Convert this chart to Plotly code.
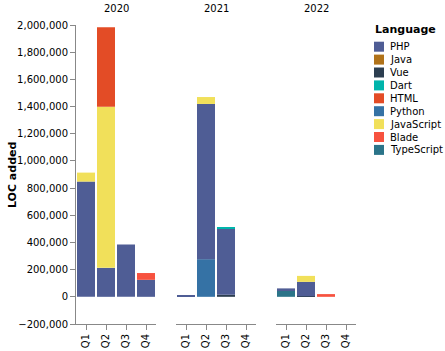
import plotly.graph_objects as go

years = ["2020", "2021", "2022"]
quarters = ["Q1", "Q2", "Q3", "Q4"]

# bottom-to-top stacking order (as in the reference)
stack_order = ["Vue", "TypeScript", "Python", "PHP", "JavaScript", "Java", "HTML", "Dart", "Blade"]
legend_order = ["PHP", "Java", "Vue", "Dart", "HTML", "Python", "JavaScript", "Blade", "TypeScript"]

colors = {
    "PHP": "#4F5D95",
    "Java": "#b07219",
    "Vue": "#2c3e50",
    "Dart": "#00B4AB",
    "HTML": "#e34c26",
    "Python": "#3572A5",
    "JavaScript": "#f1e05a",
    "Blade": "#f7523f",
    "TypeScript": "#2b7489",
}

# values: 2020 Q1..Q4, 2021 Q1..Q4, 2022 Q1..Q4
php = [848000, 213000, 385000, 125000, 12000, 1142000, 485000, 0, 12000, 106000, 0, 0]
java = [0, 0, 0, 0, 0, 0, 0, 0, 0, 0, 0, 0]
vue = [0, 0, 0, 0, 0, 0, 15000, 0, 0, 4000, 0, 0]
dart = [0, 0, 0, 0, 0, 0, 8000, 0, 0, 0, 0, 0]
html = [0, 584000, 0, 0, 0, 0, 0, 0, 0, 0, 0, 0]
python = [0, 0, 0, 0, 0, 277000, 0, 0, 0, 0, 0, 0]
javascript = [66000, 1186000, 0, 0, 0, 51000, 0, 0, 0, 44000, 0, 0]
blade = [0, 0, 0, 50000, 0, 0, 0, 0, 0, 0, 20000, 0]
typescript = [0, 0, 0, 0, 0, 0, 0, 0, 50000, 0, 0, 0]

values = {
    "PHP": php, "Java": java, "Vue": vue, "Dart": dart, "HTML": html,
    "Python": python, "JavaScript": javascript, "Blade": blade, "TypeScript": typescript,
}

W, H = 445, 351
L, R, T, B = 76, 89, 25, 27
pw = W - L - R   # 280
ph = H - T - B   # 299

def px_x(px):
    return (px - L) / pw

def px_y(py):
    return (H - B - py) / ph

domains = [[0, 80 / pw], [100 / pw, 180 / pw], [200 / pw, 1.0]]

fig = go.Figure()
for lang in stack_order:
    for j, yr in enumerate(years):
        fig.add_trace(go.Bar(
            x=quarters,
            y=values[lang][j * 4:(j + 1) * 4],
            name=lang,
            xaxis="x" if j == 0 else f"x{j+1}",
            yaxis="y" if j == 0 else f"y{j+1}",
            marker=dict(color=colors[lang], line=dict(width=0)),
            showlegend=False,
            hoverinfo="skip",
        ))

layout = dict(
    width=W, height=H,
    margin=dict(l=L, r=R, t=T, b=B),
    barmode="relative",
    bargap=0.1,
    plot_bgcolor="white",
    paper_bgcolor="white",
    font=dict(family="DejaVu Sans", size=10, color="#000"),
    showlegend=False,
)

for j in range(3):
    xk = "xaxis" if j == 0 else f"xaxis{j+1}"
    yk = "yaxis" if j == 0 else f"yaxis{j+1}"
    layout[xk] = dict(
        domain=domains[j], anchor="y" if j == 0 else f"y{j+1}",
        type="category", range=[-0.5, 3.5],
        showline=True, linecolor="#888", linewidth=1,
        ticks="outside", ticklen=5, tickcolor="#888", tickwidth=1,
        tickangle=-90, tickfont=dict(size=10, color="#000"),
        showgrid=False, zeroline=False, automargin=False, fixedrange=True,
    )
    layout[yk] = dict(
        domain=[0, 1], anchor="x" if j == 0 else f"x{j+1}",
        range=[-200000, 2000000],
        showline=(j == 0), linecolor="#888", linewidth=1,
        ticks="outside" if j == 0 else "", ticklen=5, tickcolor="#888", tickwidth=1,
        showticklabels=(j == 0), tickformat=",", dtick=200000, tick0=0,
        tickfont=dict(size=10, color="#000"),
        showgrid=False, zeroline=False, automargin=False, fixedrange=True,
    )

fig.update_layout(**layout)

annotations = []
# facet headers
for j, yr in enumerate(years):
    annotations.append(dict(
        text=yr, x=(domains[j][0] + domains[j][1]) / 2, y=px_y(8),
        xref="paper", yref="paper", showarrow=False,
        xanchor="center", yanchor="middle", font=dict(size=10, color="#000"),
    ))
# y axis title
annotations.append(dict(
    text="<b>LOC added</b>", x=px_x(12), y=px_y(175), xref="paper", yref="paper",
    showarrow=False, textangle=-90, xanchor="center", yanchor="middle",
    font=dict(size=11, color="#000"),
))
# legend title
annotations.append(dict(
    text="<b>Language</b>", x=px_x(373), y=px_y(30), xref="paper", yref="paper",
    showarrow=False, xanchor="left", yanchor="middle", font=dict(size=11, color="#000"),
))
shapes = []
for i, lang in enumerate(legend_order):
    cy = 46.7 + 12.9 * i
    shapes.append(dict(
        type="rect", xref="paper", yref="paper",
        x0=px_x(374), x1=px_x(384), y0=px_y(cy - 5), y1=px_y(cy + 5),
        fillcolor=colors[lang], line=dict(width=0),
    ))
    annotations.append(dict(
        text=lang, x=px_x(388), y=px_y(cy), xref="paper", yref="paper",
        showarrow=False, xanchor="left", yanchor="middle", font=dict(size=10, color="#000"),
    ))

fig.update_layout(annotations=annotations, shapes=shapes)
fig.write_html("out.html")
